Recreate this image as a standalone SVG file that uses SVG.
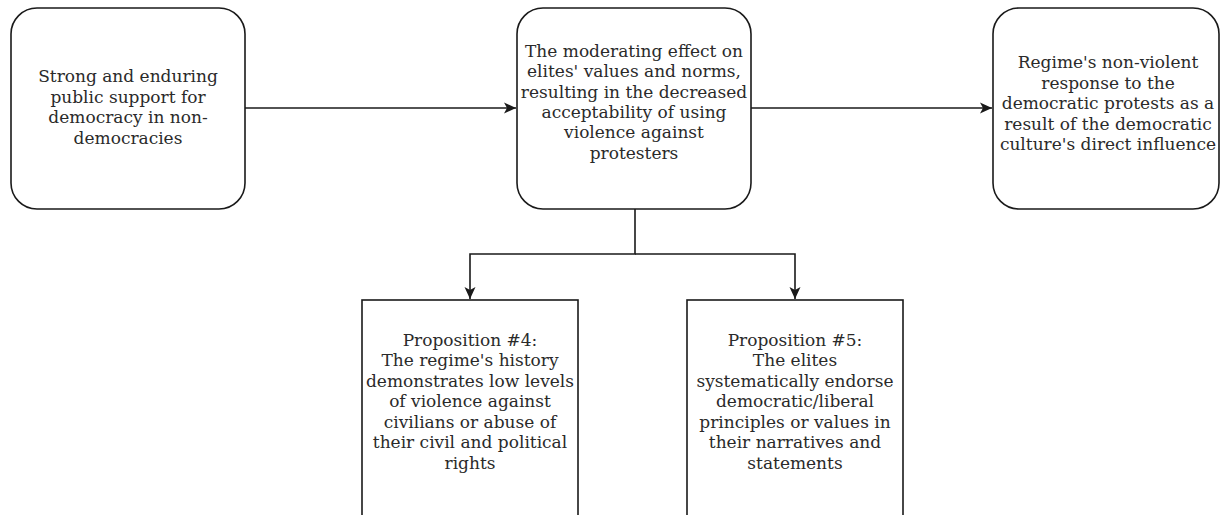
<svg xmlns="http://www.w3.org/2000/svg" width="1221" height="515" viewBox="0 0 1221 515">
<style>
.box{fill:#fff;stroke:#1a1a1a;stroke-width:1.6}
.t{font-family:"DejaVu Serif","Liberation Serif",serif;font-size:17px;fill:#2a2a2a;text-anchor:middle}
.c{fill:none;stroke:#1a1a1a;stroke-width:1.6}
</style>
<defs>
<marker id="arr" viewBox="0 0 12 12" refX="12" refY="6" markerWidth="12" markerHeight="12" markerUnits="userSpaceOnUse" orient="auto">
<path d="M0,0.5 L12,6 L0,11.5 L3,6 Z" fill="#1a1a1a"/>
</marker>
</defs>
<rect width="1221" height="515" fill="#fff"/>
<g id="connectors">
<path class="c" d="M245,108 H516" marker-end="url(#arr)"/>
<path class="c" d="M751,108 H992" marker-end="url(#arr)"/>
<path class="c" d="M635,209 V254 H470 V299" marker-end="url(#arr)"/>
<path class="c" d="M635,254 H795 V299" marker-end="url(#arr)"/>
</g>
<g id="node1">
<rect class="box" x="11" y="8" width="234" height="201" rx="26"/>
<text class="t"><tspan x="128" y="82">Strong and enduring</tspan><tspan x="128" y="102.5">public support for</tspan><tspan x="128" y="123">democracy in non-</tspan><tspan x="128" y="143.5">democracies</tspan></text>
</g>
<g id="node2">
<rect class="box" x="517" y="8" width="234" height="201" rx="26"/>
<text class="t"><tspan x="634" y="57">The moderating effect on</tspan><tspan x="634" y="77.3">elites' values and norms,</tspan><tspan x="634" y="97.6">resulting in the decreased</tspan><tspan x="634" y="118">acceptability of using</tspan><tspan x="634" y="138.3">violence against</tspan><tspan x="634" y="158.6">protesters</tspan></text>
</g>
<g id="node3">
<rect class="box" x="993" y="8" width="226" height="201" rx="26"/>
<text class="t"><tspan x="1108" y="68.3">Regime's non-violent</tspan><tspan x="1108" y="88.8">response to the</tspan><tspan x="1108" y="109.3">democratic protests as a</tspan><tspan x="1108" y="129.8">result of the democratic</tspan><tspan x="1108" y="150.3">culture's direct influence</tspan></text>
</g>
<g id="node4">
<rect class="box" x="362" y="300" width="216" height="225"/>
<text class="t"><tspan x="470" y="345.5">Proposition #4:</tspan><tspan x="470" y="366">The regime's history</tspan><tspan x="470" y="386.5">demonstrates low levels</tspan><tspan x="470" y="407">of violence against</tspan><tspan x="470" y="427.5">civilians or abuse of</tspan><tspan x="470" y="448">their civil and political</tspan><tspan x="470" y="468.5">rights</tspan></text>
</g>
<g id="node5">
<rect class="box" x="687" y="300" width="216" height="225"/>
<text class="t"><tspan x="795" y="345.5">Proposition #5:</tspan><tspan x="795" y="366">The elites</tspan><tspan x="795" y="386.5">systematically endorse</tspan><tspan x="795" y="407">democratic/liberal</tspan><tspan x="795" y="427.5">principles or values in</tspan><tspan x="795" y="448">their narratives and</tspan><tspan x="795" y="468.5">statements</tspan></text>
</g>
</svg>
